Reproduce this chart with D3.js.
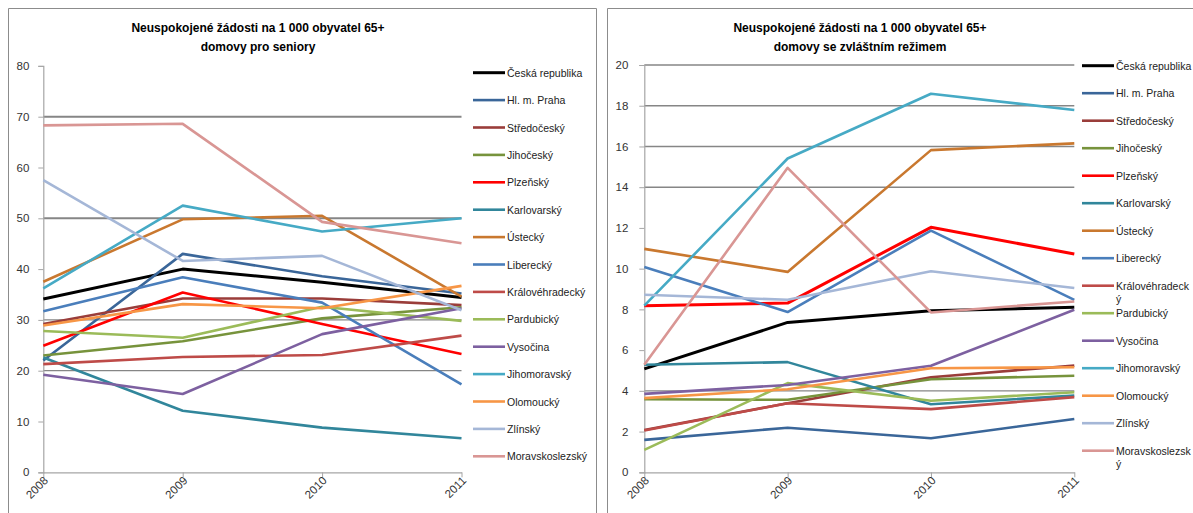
<!DOCTYPE html>
<html><head><meta charset="utf-8">
<script src="https://cdn.jsdelivr.net/npm/d3@7"></script>
<style>
html,body{margin:0;padding:0;background:#fff;}
svg{display:block;font-family:"Liberation Sans",Arial,sans-serif;}
</style></head>
<body>
<svg id="c" width="1193" height="513"></svg>
<script>
const years = ["2008","2009","2010","2011"];
const regions = ["Česká republika","Hl. m. Praha","Středočeský","Jihočeský","Plzeňský","Karlovarský","Ústecký","Liberecký","Královéhradecký","Pardubický","Vysočina","Jihomoravský","Olomoucký","Zlínský","Moravskoslezský"];
const colors = ["#000000","#3A6699","#9A3D3A","#77933C","#FF0000","#31869B","#C9782F","#4A7EBB","#BE4B48","#9BBB59","#7D60A0","#46AAC5","#F79646","#A5B7D7","#D99694"];

// Neuspokojené žádosti – domovy pro seniory
const seniorHomes = [
  [34.1, 40.0, 37.4, 34.4],
  [22.0, 43.0, 38.6, 35.2],
  [29.2, 34.2, 34.2, 32.9],
  [23.0, 25.8, 30.3, 32.5],
  [24.9, 35.4, 29.2, 23.3],
  [22.6, 12.1, 8.8, 6.7],
  [37.5, 49.8, 50.5, 34.6],
  [31.7, 38.4, 33.4, 17.3],
  [21.3, 22.7, 23.1, 26.9],
  [27.8, 26.5, 32.6, 29.8],
  [19.2, 15.4, 27.2, 32.3],
  [36.2, 52.5, 47.4, 50.0],
  [28.9, 33.1, 32.3, 36.7],
  [57.5, 41.6, 42.6, 31.9],
  [68.3, 68.6, 49.3, 45.1]
];
// Neuspokojené žádosti – domovy se zvláštním režimem
const specialHomes = [
  [5.08, 7.36, 7.93, 8.10],
  [1.59, 2.19, 1.67, 2.62],
  [2.08, 3.39, 4.67, 5.24],
  [3.59, 3.56, 4.57, 4.74],
  [8.18, 8.31, 12.03, 10.72],
  [5.28, 5.41, 3.34, 3.77],
  [10.97, 9.84, 15.82, 16.15],
  [10.08, 7.87, 11.87, 8.47],
  [2.05, 3.39, 3.10, 3.69],
  [1.10, 4.38, 3.51, 3.93],
  [3.85, 4.29, 5.23, 7.98],
  [8.18, 15.41, 18.59, 17.79],
  [3.64, 4.08, 5.11, 5.16],
  [8.72, 8.47, 9.87, 9.05],
  [5.28, 14.95, 7.85, 8.39]
];
const leftTicks = [0,10,20,30,40,50,60,70,80];
const rightTicks = [0,2,4,6,8,10,12,14,16,18,20];
const leftTitle = ["Neuspokojené žádosti na 1 000 obyvatel 65+","domovy pro seniory"];
const rightTitle = ["Neuspokojené žádosti na 1 000 obyvatel 65+","domovy se zvláštním režimem"];
const leftLegend = regions;
const rightLegend = ["Česká republika","Hl. m. Praha","Středočeský","Jihočeský","Plzeňský","Karlovarský","Ústecký","Liberecký","Královéhradeck|ý","Pardubický","Vysočina","Jihomoravský","Olomoucký","Zlínský","Moravskoslezsk|ý"];

const svg = d3.select("#c");

// panel frames
svg.append("path").attr("d","M8.5,520 V8.5 H596.5 V520").attr("fill","none").attr("stroke","#8c8c8c").attr("stroke-width",1);
svg.append("path").attr("d","M607.5,520 V8.5 H1200").attr("fill","none").attr("stroke","#8c8c8c").attr("stroke-width",1);

function drawChart(o){
  const g = svg.append("g");
  const x = d3.scalePoint().domain(years).range(o.xr);
  const y = d3.scaleLinear().domain([0, o.max]).range([472.3, o.top]);
  // gridlines
  g.selectAll("line.grid").data(o.grid).join("line")
    .attr("x1", o.xr[0]).attr("x2", o.xr[1])
    .attr("y1", d=>y(d.v)).attr("y2", d=>y(d.v))
    .attr("stroke","#868686").attr("stroke-width", d=>d.w);
  // y axis
  const ya = g.append("g").attr("transform",`translate(${o.xr[0]},0)`)
    .call(d3.axisLeft(y).tickValues(o.ticks).tickSize(5).tickPadding(o.pad).tickFormat(d3.format("d")));
  ya.select(".domain").attr("stroke","#a6a6a6").attr("stroke-width",1.2);
  ya.selectAll(".tick line").attr("stroke","#a6a6a6");
  ya.selectAll(".tick text").attr("fill","#333").style("font-size","11.5px");
  // x axis
  const xa = g.append("g").attr("transform","translate(0,472.3)")
    .call(d3.axisBottom(x).tickSize(5).tickSizeOuter(0));
  xa.select(".domain").attr("stroke","#a6a6a6").attr("stroke-width",1.2);
  xa.selectAll(".tick line").attr("stroke","#a6a6a6");
  xa.selectAll(".tick text").attr("fill","#333").style("font-size","11.5px")
    .attr("text-anchor","end").attr("dy","0").attr("y",0)
    .attr("transform","translate(5,9) rotate(-45)");
  // series
  const line = d3.line().x((d,i)=>x(years[i])).y(d=>y(d));
  g.selectAll("path.s").data(o.data).join("path")
    .attr("d", line).attr("fill","none")
    .attr("stroke",(d,i)=>colors[i])
    .attr("stroke-width",(d,i)=> i===0 ? 3 : (i===4 && o.right ? 3 : 2.6))
    .attr("stroke-linejoin","round");
  // title
  const t = g.append("text").attr("text-anchor","middle").attr("font-weight","bold").style("font-size","12px").attr("fill","#000");
  o.title.forEach((s,i)=> t.append("tspan").attr("x",o.tx).attr("y",32+i*19).text(s));
  // legend
  const lg = g.selectAll("g.lg").data(o.legend).join("g")
    .attr("transform",(d,i)=>`translate(${o.lx},${o.ly + i*o.ls})`);
  lg.append("line").attr("x1",0).attr("x2",32).attr("stroke",(d,i)=>colors[i]).attr("stroke-width",(d,i)=> i===0?3:2.6);
  lg.each(function(d){
    const parts = d.split("|");
    const tx = d3.select(this).append("text").attr("fill","#222").style("font-size","10.5px");
    parts.forEach((p,k)=> tx.append("tspan").attr("x",34).attr("y",4+k*13).text(p));
  });
}

drawChart({xr:[43.3,461.5], max:80, top:65.9, data:seniorHomes, ticks:leftTicks, pad:9,
  grid:[{v:70,w:2},{v:50,w:2},{v:30,w:1.2},{v:20,w:1.2}],
  title:leftTitle, tx:258, legend:leftLegend, lx:473, ly:72.7, ls:27.4, right:false});
drawChart({xr:[644.3,1074.3], max:20, top:65, data:specialHomes, ticks:rightTicks, pad:11,
  grid:[{v:20,w:1.4},{v:18,w:1.4},{v:16,w:1.4},{v:14,w:1.4},{v:4,w:1.4}],
  title:rightTitle, tx:860, legend:rightLegend, lx:1082, ly:65.7, ls:27.5, right:true});
</script>
</body></html>
